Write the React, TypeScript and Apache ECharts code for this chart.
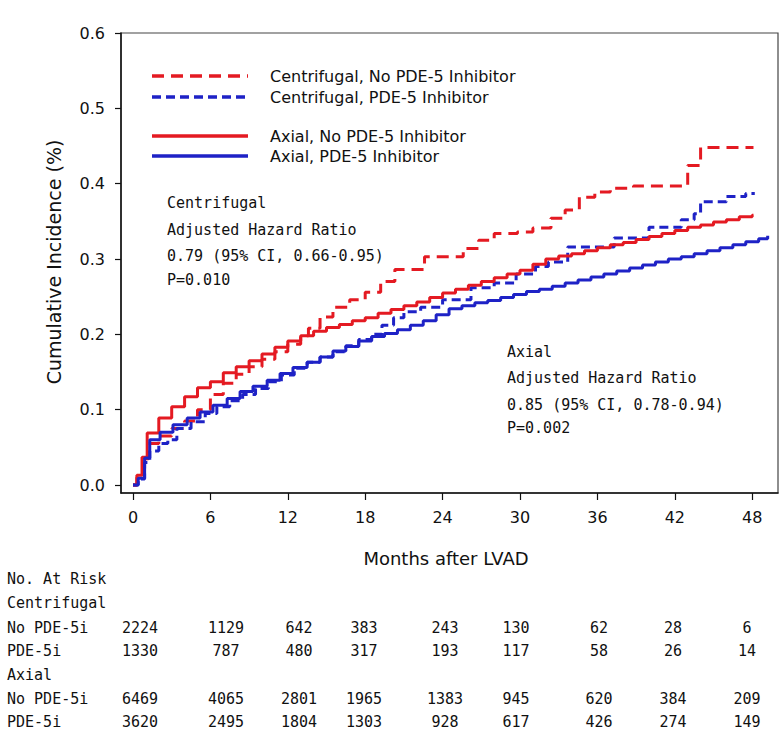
import React, { useEffect, useRef } from "react";
import * as echarts from "echarts";

// ---------- data ----------
const xTickValues = [0, 6, 12, 18, 24, 30, 36, 42, 48];
const yTickValues = [0, 0.1, 0.2, 0.3, 0.4, 0.5, 0.6];

const seriesNames = [
  "Centrifugal, No PDE-5 Inhibitor",
  "Centrifugal, PDE-5 Inhibitor",
  "Axial, No PDE-5 Inhibitor",
  "Axial, PDE-5 Inhibitor",
];

// [month, cumulative incidence]
const centrifugalNoPde = [
  [0, 0], [0.3, 0.01], [0.8, 0.035], [1.2, 0.055], [2, 0.065], [3, 0.075], [4, 0.085],
  [5, 0.1], [6, 0.12], [7, 0.135], [8, 0.147], [9, 0.157], [10, 0.167], [11, 0.177],
  [12, 0.187], [13, 0.198], [13.6, 0.208], [14.5, 0.223], [15.5, 0.236], [16.8, 0.246],
  [18, 0.256], [19.2, 0.27], [20.3, 0.286], [22.6, 0.303], [25.6, 0.314], [26.8, 0.325],
  [28, 0.334], [29.8, 0.336], [31, 0.341], [32.4, 0.354], [33.5, 0.365], [34.6, 0.382],
  [35.8, 0.389], [37, 0.394], [38.8, 0.397], [43, 0.424], [44, 0.448], [48.1, 0.448],
];

const centrifugalPde = [
  [0, 0], [0.4, 0.008], [0.9, 0.03], [1.3, 0.045], [2, 0.055], [2.7, 0.06], [3.4, 0.075],
  [4.5, 0.084], [5.6, 0.095], [6.5, 0.104], [7.5, 0.112], [8.5, 0.12], [9.5, 0.128],
  [10.5, 0.137], [11.5, 0.146], [12.5, 0.155], [13.5, 0.163], [14.5, 0.17], [15.5, 0.177],
  [16.5, 0.185], [17.5, 0.193], [18.5, 0.2], [19.3, 0.212], [20.2, 0.222], [21, 0.23],
  [22.3, 0.236], [24, 0.246], [26.2, 0.262], [28, 0.268], [29.7, 0.28], [31.2, 0.29],
  [32.2, 0.296], [33.7, 0.316], [37.3, 0.328], [40, 0.342], [42.5, 0.352], [43.5, 0.36],
  [44, 0.376], [46, 0.383], [47.5, 0.387], [48.2, 0.387],
];

const axialNoPde = [
  [0, 0], [0.3, 0.013], [0.7, 0.037], [1.1, 0.069], [2, 0.089], [3, 0.104], [4, 0.117],
  [5, 0.129], [6, 0.137], [7, 0.149], [8, 0.157], [9, 0.165], [10, 0.174], [11, 0.183],
  [12, 0.191], [13, 0.198], [14, 0.204], [15, 0.209], [16, 0.213], [17, 0.218], [18, 0.222],
  [19, 0.228], [20, 0.233], [21, 0.238], [22, 0.243], [23, 0.249], [24, 0.255], [25, 0.26],
  [26, 0.265], [27, 0.27], [28, 0.275], [29, 0.28], [30, 0.285], [31, 0.293], [32, 0.3],
  [33, 0.304], [34, 0.307], [35, 0.311], [36, 0.315], [37, 0.319], [38, 0.322], [39, 0.326],
  [40, 0.33], [41, 0.334], [42, 0.338], [43, 0.342], [44, 0.345], [45, 0.349], [46, 0.352],
  [47, 0.356], [48, 0.358], [48.1, 0.358],
];

const axialPde = [
  [0, 0], [0.4, 0.009], [0.9, 0.036], [1.3, 0.06], [2.1, 0.07], [3.1, 0.08], [4.2, 0.089],
  [5.2, 0.097], [6.2, 0.106], [7.3, 0.115], [8.3, 0.124], [9.3, 0.131], [10.4, 0.139],
  [11.4, 0.148], [12.4, 0.156], [13.5, 0.163], [14.5, 0.17], [15.5, 0.178], [16.5, 0.184],
  [17.5, 0.191], [18.5, 0.197], [19.5, 0.201], [20.5, 0.206], [21.5, 0.212], [22.5, 0.218],
  [23.5, 0.226], [24.5, 0.234], [25.5, 0.238], [26.5, 0.242], [27.5, 0.245], [28.5, 0.249],
  [29.5, 0.253], [30.5, 0.257], [31.5, 0.26], [32.5, 0.264], [33.5, 0.268], [34.5, 0.272],
  [35.5, 0.276], [36.5, 0.28], [37.5, 0.284], [38.5, 0.288], [39.5, 0.292], [40.5, 0.296],
  [41.5, 0.3], [42.5, 0.303], [43.5, 0.307], [44.5, 0.311], [45.5, 0.315], [46.5, 0.319],
  [47.5, 0.323], [48.5, 0.327], [49.2, 0.331],
];

const riskTitle = "No. At Risk";
const riskGroupLabels = ["Centrifugal", "Axial"];
const riskRowLabels = ["No PDE-5i", "PDE-5i", "No PDE-5i", "PDE-5i"];
const riskCentNo = [2224, 1129, 642, 383, 243, 130, 62, 28, 6];
const riskCentPde = [1330, 787, 480, 317, 193, 117, 58, 26, 14];
const riskAxNo = [6469, 4065, 2801, 1965, 1383, 945, 620, 384, 209];
const riskAxPde = [3620, 2495, 1804, 1303, 928, 617, 426, 274, 149];

const centrifugalNote = ["Centrifugal", "Adjusted Hazard Ratio", "0.79 (95% CI, 0.66-0.95)", "P=0.010"];
const axialNote = ["Axial", "Adjusted Hazard Ratio", "0.85 (95% CI, 0.78-0.94)", "P=0.002"];

const xAxisTitle = "Months after LVAD";
const yAxisTitle = "Cumulative Incidence (%)";

// ---------- style ----------
const RED = "#e41a22";
const BLUE = "#1e22c6";
const SANS = '"DejaVu Sans", "Liberation Sans", sans-serif';
const MONO = '"DejaVu Sans Mono", monospace';

function txt(x: number, y: number, text: string, size: number, family: string, align = "left", extra: any = {}) {
  return {
    type: "text",
    x,
    y,
    silent: true,
    ...extra,
    style: {
      text,
      fill: "#111",
      fontSize: size,
      fontFamily: family,
      align,
      textAlign: align,
      verticalAlign: "middle",
      textVerticalAlign: "middle",
    },
  };
}

export default function App() {
  const ref = useRef<HTMLDivElement>(null);

  useEffect(() => {
    if (!ref.current) return;
    const chart = echarts.init(ref.current, undefined, { renderer: "svg" });

    const graphics: any[] = [];

    // legend
    const legendRows = [
      { y: 76, color: RED, dash: [12, 7] },
      { y: 97, color: BLUE, dash: [9, 5] },
      { y: 136, color: RED, dash: null },
      { y: 156, color: BLUE, dash: null },
    ];
    legendRows.forEach((r, i) => {
      graphics.push({
        type: "line",
        silent: true,
        shape: { x1: 152, y1: r.y, x2: 248, y2: r.y },
        style: { stroke: r.color, lineWidth: 3.5, lineDash: r.dash || undefined },
      });
      graphics.push(txt(270, r.y, seriesNames[i], 16, SANS));
    });

    // annotations
    const cY = [203, 230, 256, 280];
    centrifugalNote.forEach((t, i) => graphics.push(txt(167, cY[i], t, 15, MONO)));
    const aY = [352, 378, 405, 428];
    axialNote.forEach((t, i) => graphics.push(txt(507, aY[i], t, 15, MONO)));

    // axis titles
    graphics.push(txt(446, 558, xAxisTitle, 18, SANS, "center"));
    graphics.push(txt(54, 262, yAxisTitle, 19, SANS, "center", { rotation: Math.PI / 2 }));

    // risk table
    const colX = [140, 226, 299, 364, 445, 516, 599, 673, 747];
    graphics.push(txt(7, 579, riskTitle, 15, MONO));
    graphics.push(txt(7, 603, riskGroupLabels[0], 15, MONO));
    graphics.push(txt(7, 675, riskGroupLabels[1], 15, MONO));
    const rows = [
      { y: 628, vals: riskCentNo },
      { y: 651, vals: riskCentPde },
      { y: 699, vals: riskAxNo },
      { y: 722, vals: riskAxPde },
    ];
    rows.forEach((r, i) => {
      graphics.push(txt(7, r.y, riskRowLabels[i], 15, MONO));
      r.vals.forEach((v, j) => graphics.push(txt(colX[j], r.y, String(v), 15, MONO, "center")));
    });

    const mk = (name: string, data: number[][], color: string, dash: any) => ({
      name,
      type: "line",
      step: "end",
      showSymbol: false,
      symbol: "none",
      data,
      lineStyle: { color, width: 3, type: dash },
      itemStyle: { color },
    });

    chart.setOption({
      animation: false,
      backgroundColor: "#fff",
      grid: {
        left: 121,
        top: 33,
        right: 2,
        bottom: 252,
        show: true,
        borderColor: "#444",
        borderWidth: 1.2,
        containLabel: false,
      },
      xAxis: {
        type: "value",
        min: -0.93,
        max: 50,
        splitLine: { show: false },
        axisLine: { show: true, onZero: false, lineStyle: { color: "#111", width: 1.5 } },
        axisTick: { show: true, inside: false, length: 7, customValues: xTickValues, lineStyle: { color: "#111", width: 1.2 } },
        axisLabel: {
          customValues: xTickValues,
          margin: 16,
          fontSize: 16,
          fontFamily: SANS,
          color: "#111",
          formatter: (v: number) => String(v),
        },
      },
      yAxis: {
        type: "value",
        min: -0.0106,
        max: 0.6,
        splitLine: { show: false },
        axisLine: { show: true, onZero: false, lineStyle: { color: "#111", width: 1.5 } },
        axisTick: { show: true, inside: false, length: 6, customValues: yTickValues, lineStyle: { color: "#111", width: 1.2 } },
        axisLabel: {
          customValues: yTickValues,
          margin: 16,
          fontSize: 16,
          fontFamily: SANS,
          color: "#111",
          formatter: (v: number) => v.toFixed(1),
        },
      },
      series: [
        mk(seriesNames[0], centrifugalNoPde, RED, [12, 7]),
        mk(seriesNames[1], centrifugalPde, BLUE, [9, 5]),
        mk(seriesNames[2], axialNoPde, RED, "solid"),
        mk(seriesNames[3], axialPde, BLUE, "solid"),
      ],
      graphic: graphics,
    });

    return () => chart.dispose();
  }, []);

  return (
    <div
      ref={ref}
      style={{ position: "fixed", left: 0, top: 0, width: 780, height: 745, background: "#fff" }}
    />
  );
}
